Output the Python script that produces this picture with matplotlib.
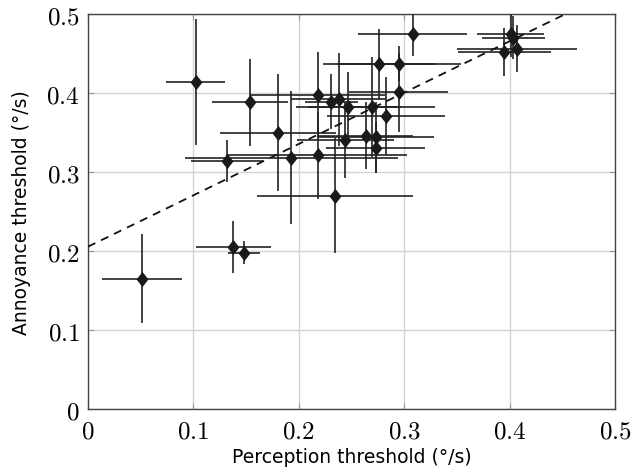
import matplotlib
matplotlib.use("Agg")
import matplotlib.pyplot as plt
from matplotlib.ticker import FuncFormatter, MultipleLocator
import numpy as np

# perception / annoyance thresholds (deg/s) with per-participant spread
perception = [0.051, 0.102, 0.138, 0.148, 0.132, 0.154, 0.180, 0.193, 0.218, 0.218,
              0.234, 0.231, 0.238, 0.247, 0.244, 0.2635, 0.269, 0.273, 0.273, 0.2824,
              0.2758, 0.295, 0.295, 0.308, 0.401, 0.4035, 0.395, 0.407]
annoyance = [0.165, 0.414, 0.205, 0.198, 0.314, 0.388, 0.350, 0.318, 0.398, 0.321,
             0.270, 0.389, 0.392, 0.382, 0.340, 0.346, 0.382, 0.344, 0.331, 0.371,
             0.437, 0.437, 0.401, 0.475, 0.475, 0.470, 0.452, 0.456]
perception_err = [0.038, 0.028, 0.036, 0.015, 0.034, 0.036, 0.055, 0.101, 0.064, 0.085,
                  0.074, 0.025, 0.045, 0.050, 0.046, 0.045, 0.060, 0.055, 0.047, 0.056,
                  0.053, 0.059, 0.047, 0.052, 0.032, 0.030, 0.044, 0.057]
annoyance_err = [0.056, 0.080, 0.033, 0.015, 0.027, 0.055, 0.074, 0.084, 0.054, 0.055,
                 0.073, 0.035, 0.059, 0.045, 0.048, 0.042, 0.063, 0.045, 0.032, 0.049,
                 0.044, 0.022, 0.050, 0.028, 0.030, 0.027, 0.030, 0.030]

# linear fit shown as dashed line
fit_intercept = 0.2055
fit_slope = 0.65

plt.rcParams['mathtext.fontset'] = 'cm'

fig = plt.figure(figsize=(6.32, 4.77), dpi=100)
ax = fig.add_axes([88 / 632, 67 / 477, 527 / 632, 395 / 477])

ax.errorbar(perception, annoyance, xerr=perception_err, yerr=annoyance_err,
            fmt='none', ecolor='#222222', elinewidth=1.2, capsize=0, zorder=3)
diamond = [(0, -1), (0.78, 0), (0, 1), (-0.78, 0), (0, -1)]
ax.plot(perception, annoyance, linestyle='none', marker=diamond, markersize=11,
        color='#1a1a1a', markeredgewidth=0, zorder=4)

xs = np.array([0.0, 0.5])
ax.plot(xs, fit_intercept + fit_slope * xs, color='#111111', linewidth=1.3,
        linestyle=(0, (4.5, 3.5)), zorder=5)

ax.set_xlim(0, 0.5)
ax.set_ylim(0, 0.5)
ax.xaxis.set_major_locator(MultipleLocator(0.1))
ax.yaxis.set_major_locator(MultipleLocator(0.1))
fmt = FuncFormatter(lambda v, pos: '$%g$' % round(v, 2))
ax.xaxis.set_major_formatter(fmt)
ax.yaxis.set_major_formatter(fmt)

ax.grid(True, color='#d4d4d4', linewidth=1.0, zorder=0)
ax.set_axisbelow(True)
for s in ax.spines.values():
    s.set_color('#444444')
    s.set_linewidth(1.0)
ax.tick_params(direction='in', length=4, width=0.8, color='#999999',
               labelsize=18, top=True, right=True)
ax.tick_params(axis='x', pad=7)
ax.tick_params(axis='y', pad=6)

ax.set_xlabel('Perception threshold (°/s)', fontsize=13.5, family='DejaVu Sans', labelpad=3)
ax.set_ylabel('Annoyance threshold (°/s)', fontsize=13.5, family='DejaVu Sans', labelpad=11)

fig.savefig('out.png', dpi=100)
